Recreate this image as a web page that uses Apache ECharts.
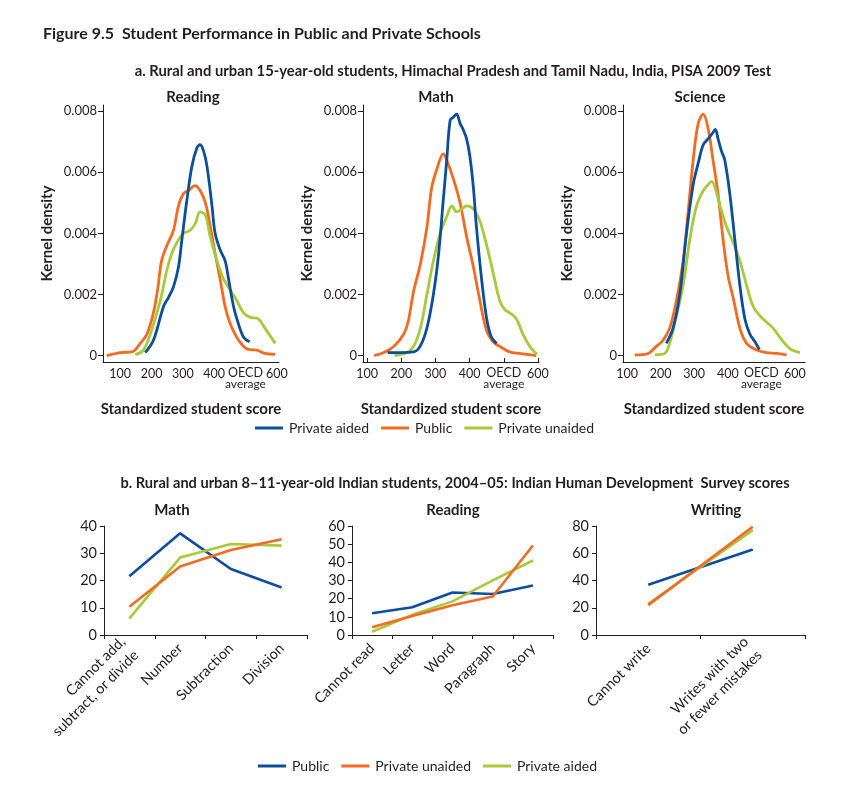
<!DOCTYPE html>
<html><head><meta charset="utf-8">
<script src="https://cdn.jsdelivr.net/npm/echarts@6/dist/echarts.min.js"></script>
<style>html,body{margin:0;padding:0;background:#fff}#c{width:857px;height:804px}</style>
</head><body><div id="c"></div>
<script>
// ---------- Panel a: kernel densities (score, density) ----------
const readingPrivateAided = [[180,0.0001],[206,0.0005],[238,0.0016],[254,0.0019],[270,0.00225],[286,0.0029],[297,0.0038],[313,0.0051],[329,0.0062],[345,0.0068],[355,0.0069],[366,0.0067],[377,0.0062],[393,0.0049],[403,0.0040],[419,0.00346],[435,0.0031],[446,0.0025],[462,0.0016],[477,0.00105],[494,0.0006],[513,0.00045]];
const readingPublic = [[57,0],[100,0.0001],[137,0.00012],[164,0.0004],[185,0.0007],[206,0.0014],[220,0.0022],[232,0.0031],[249,0.0036],[270,0.0041],[286,0.0049],[302,0.0053],[318,0.0054],[339,0.00556],[355,0.0054],[372,0.005],[388,0.0042],[403,0.00335],[419,0.0025],[435,0.0016],[451,0.00105],[472,0.0006],[494,0.0003],[510,0.0002],[536,0.00018],[562,0.00007],[595,0.00004]];
const readingPrivateUnaided = [[148,0.00003],[174,0.00018],[196,0.0007],[228,0.0018],[249,0.0028],[265,0.00335],[281,0.0037],[302,0.004],[323,0.0041],[339,0.0043],[355,0.0047],[372,0.0046],[387,0.0039],[409,0.0031],[430,0.0025],[451,0.00215],[472,0.0018],[494,0.0014],[515,0.00125],[541,0.0012],[562,0.0009],[595,0.0004]];

const mathPrivateAided = [[160,0.0001],[197,0.0001],[236,0.00012],[255,0.0003],[275,0.0009],[294,0.002],[309,0.0033],[323,0.0051],[333,0.0064],[343,0.0077],[352,0.0078],[362,0.0079],[372,0.0076],[381,0.0074],[391,0.0071],[401,0.0065],[411,0.0055],[420,0.0042],[435,0.0025],[450,0.0012],[464,0.0006],[479,0.0004]];
const mathPublic = [[121,0],[149,0.0001],[178,0.0003],[207,0.0007],[220,0.0011],[236,0.0021],[256,0.003],[275,0.0042],[289,0.0055],[304,0.0061],[323,0.0066],[333,0.0064],[352,0.0058],[372,0.005],[391,0.0039],[411,0.0029],[430,0.0018],[450,0.0008],[469,0.00045],[488,0.0003],[517,0.00012],[546,0.00007],[595,0]];
const mathPrivateUnaided = [[180,0],[217,0.0001],[236,0.0003],[256,0.0009],[275,0.002],[294,0.0031],[314,0.004],[333,0.00455],[348,0.0049],[362,0.0047],[377,0.0048],[391,0.0049],[411,0.0048],[430,0.0044],[450,0.0036],[469,0.0027],[488,0.0018],[503,0.0015],[517,0.0014],[537,0.0012],[556,0.0007],[576,0.0003],[597,0.00004]];

const sciencePrivateAided = [[217,0.0004],[237,0.0009],[257,0.002],[277,0.004],[297,0.0056],[312,0.0063],[327,0.0069],[342,0.0071],[356,0.0073],[363,0.0074],[371,0.0071],[381,0.0067],[391,0.0064],[406,0.0053],[421,0.0038],[436,0.0023],[451,0.0012],[466,0.0007],[481,0.00045],[494,0.0002]];
const sciencePublic = [[123,0.00002],[163,0.00007],[187,0.0003],[207,0.0005],[227,0.0009],[247,0.0018],[267,0.0031],[282,0.0047],[297,0.0064],[312,0.0076],[327,0.0079],[342,0.0074],[356,0.0064],[371,0.0053],[386,0.0038],[401,0.0026],[416,0.0019],[436,0.0009],[456,0.0004],[486,0.00018],[515,0.0001],[545,0.00007],[575,0.00002]];
const sciencePrivateUnaided = [[183,0.00003],[212,0.00007],[227,0.0004],[247,0.0013],[267,0.0023],[287,0.0038],[307,0.0049],[327,0.0054],[342,0.0056],[352,0.0057],[362,0.0055],[377,0.0049],[397,0.0042],[416,0.0037],[436,0.0031],[456,0.0023],[476,0.0016],[496,0.0013],[515,0.0011],[535,0.0009],[555,0.0006],[585,0.00023],[615,0.0001]];

const scoreTicks = [100, 200, 300, 400, 500, 600];
const densityTicks = [0, 0.002, 0.004, 0.006, 0.008];

// ---------- Panel b: IHDS shares (%) ----------
const mathCats = ['Cannot add,\nsubtract, or divide', 'Number', 'Subtraction', 'Division'];
const mathPublicB = [21.6, 37.3, 24.2, 17.4];
const mathUnaidedB = [10.4, 25.1, 31.2, 35.1];
const mathAidedB = [6.1, 28.4, 33.4, 32.8];

const readCats = ['Cannot read', 'Letter', 'Word', 'Paragraph', 'Story'];
const readPublicB = [12.0, 15.3, 23.4, 22.6, 27.3];
const readUnaidedB = [4.2, 10.5, 16.4, 21.2, 49.3];
const readAidedB = [1.8, 11.1, 18.5, 30.1, 41.0];

const writeCats = ['Cannot write', 'Writes with two\nor fewer mistakes'];
const writePublicB = [36.9, 62.8];
const writeUnaidedB = [21.9, 79.5];
const writeAidedB = [22.9, 77.0];

// ---------- styling ----------
const BLUE = '#0b4f9c', ORANGE = '#f26b21', GREEN = '#a8c93a';
const TXT = '#231f20';
const FONT = 'Lato';

const chart = echarts.init(document.getElementById('c'), null, {renderer: 'canvas'});

const topGrids = [
  {left: 103, top: 105, width: 176, height: 257},
  {left: 363, top: 105, width: 176, height: 257},
  {left: 623, top: 105, width: 182, height: 257}
];
const topXRange = [[45, 607], [88, 603], [88, 630]];
const botGrids = [
  {left: 104, top: 526, width: 203, height: 109},
  {left: 352, top: 526, width: 201, height: 109},
  {left: 596, top: 526, width: 209, height: 109}
];
const grid = topGrids.concat(botGrids).map(g => Object.assign({containLabel: false}, g));

const xAxis = [], yAxis = [];
topXRange.forEach((r, i) => {
  xAxis.push({
    type: 'value', gridIndex: i, min: r[0], max: r[1],
    axisLine: {show: true, onZero: false, lineStyle: {color: TXT, width: 1}},
    axisTick: {show: i === 1, inside: true, length: 4, customValues: scoreTicks, lineStyle: {color: TXT}},
    splitLine: {show: false},
    axisLabel: {
      customValues: scoreTicks, color: TXT, fontFamily: FONT, fontSize: 12.5, margin: 5, hideOverlap: false,
      showMinLabel: true, showMaxLabel: true,
      formatter: v => v === 500 ? '{o|OECD}\n{a|average}' : String(v),
      rich: {o: {fontSize: 12.5, fontFamily: FONT, color: TXT, lineHeight: 12}, a: {fontSize: 12, fontFamily: FONT, color: TXT, lineHeight: 11}}
    },
    name: 'Standardized student score', nameLocation: 'middle', nameGap: 40,
    nameTextStyle: {fontFamily: FONT, fontWeight: 'bold', fontSize: 15, color: TXT}
  });
  yAxis.push({
    type: 'value', gridIndex: i, min: -0.00021, max: 0.0082,
    axisLine: {show: true, lineStyle: {color: TXT, width: 1}},
    axisTick: {show: true, length: 5, customValues: densityTicks, lineStyle: {color: TXT}},
    splitLine: {show: false},
    axisLabel: {customValues: densityTicks, color: TXT, fontFamily: FONT, fontSize: 13, margin: 6,
      formatter: v => v === 0 ? '0' : v.toFixed(3)},
    name: 'Kernel density', nameLocation: 'middle', nameGap: 48, nameRotate: 90,
    nameTextStyle: {fontFamily: FONT, fontWeight: 'bold', fontSize: 15, color: TXT}
  });
});

const botCats = [mathCats, readCats, writeCats];
const botY = [[40, 10], [60, 10], [80, 20]];
botCats.forEach((cats, j) => {
  const gi = 3 + j;
  xAxis.push({
    type: 'category', gridIndex: gi, data: cats, boundaryGap: true,
    axisLine: {show: true, lineStyle: {color: TXT, width: 1}},
    axisTick: {show: true, length: 4, lineStyle: {color: TXT}},
    axisLabel: {interval: 0, rotate: 45, color: TXT, fontFamily: FONT, fontSize: 14.5, margin: 11, lineHeight: 19}
  });
  yAxis.push({
    type: 'value', gridIndex: gi, min: 0, max: botY[j][0], interval: botY[j][1],
    axisLine: {show: true, lineStyle: {color: TXT, width: 1}},
    axisTick: {show: true, length: 4, lineStyle: {color: TXT}},
    splitLine: {show: false},
    axisLabel: {color: TXT, fontFamily: FONT, fontSize: 14.5, margin: 7}
  });
});

function dens(name, data, color, i) {
  return {type: 'line', name, data, xAxisIndex: i, yAxisIndex: i, smooth: 0.35, showSymbol: false,
    lineStyle: {color, width: 2.8}, itemStyle: {color}, z: name === 'Private aided' ? 4 : 3};
}
function cat(name, data, color, i) {
  return {type: 'line', name, data, xAxisIndex: i, yAxisIndex: i, showSymbol: false,
    lineStyle: {color, width: 2.6}, itemStyle: {color}};
}

const series = [
  dens('Public', readingPublic, ORANGE, 0),
  dens('Private unaided', readingPrivateUnaided, GREEN, 0),
  dens('Private aided', readingPrivateAided, BLUE, 0),
  dens('Public', mathPublic, ORANGE, 1),
  dens('Private unaided', mathPrivateUnaided, GREEN, 1),
  dens('Private aided', mathPrivateAided, BLUE, 1),
  dens('Public', sciencePublic, ORANGE, 2),
  dens('Private unaided', sciencePrivateUnaided, GREEN, 2),
  dens('Private aided', sciencePrivateAided, BLUE, 2),
  cat('b:Public', mathPublicB, BLUE, 3),
  cat('b:Private aided', mathAidedB, GREEN, 3),
  cat('b:Private unaided', mathUnaidedB, ORANGE, 3),
  cat('b:Public', readPublicB, BLUE, 4),
  cat('b:Private aided', readAidedB, GREEN, 4),
  cat('b:Private unaided', readUnaidedB, ORANGE, 4),
  cat('b:Public', writePublicB, BLUE, 5),
  cat('b:Private aided', writeAidedB, GREEN, 5),
  cat('b:Private unaided', writeUnaidedB, ORANGE, 5)
];

const legendBase = {
  orient: 'horizontal', icon: 'rect', itemWidth: 28, itemHeight: 3, itemGap: 12,
  textStyle: {fontFamily: FONT, fontSize: 14, color: TXT, padding: [0, 0, 0, 1]},
  selectedMode: false
};

function txt(x, y, text, size, align) {
  return {type: 'text', x, y, style: {text, fontFamily: FONT, fontWeight: 'bold', fontSize: size,
    fill: TXT, textAlign: align || 'center', textVerticalAlign: 'middle'}};
}

chart.setOption({
  animation: false,
  backgroundColor: '#fff',
  grid, xAxis, yAxis, series,
  legend: [
    Object.assign({}, legendBase, {left: 250, top: 416,
      data: ['Private aided', 'Public', 'Private unaided']}),
    Object.assign({}, legendBase, {left: 253, top: 754,
      data: ['b:Public', 'b:Private unaided', 'b:Private aided'],
      formatter: n => n.replace(/^b:/, '')})
  ],
  graphic: [
    txt(43, 34, 'Figure 9.5  Student Performance in Public and Private Schools', 16, 'left'),
    txt(453, 71, 'a. Rural and urban 15-year-old students, Himachal Pradesh and Tamil Nadu, India, PISA 2009 Test', 14.8),
    txt(193, 97, 'Reading', 15),
    txt(436, 97, 'Math', 15),
    txt(700, 97, 'Science', 15),
    txt(455, 483, 'b. Rural and urban 8\u201311-year-old Indian students, 2004\u201305: Indian Human Development  Survey scores', 14.6),
    txt(172, 510, 'Math', 15),
    txt(453, 510, 'Reading', 15),
    txt(716, 510, 'Writing', 15)
  ]
});
</script>
</body></html>
